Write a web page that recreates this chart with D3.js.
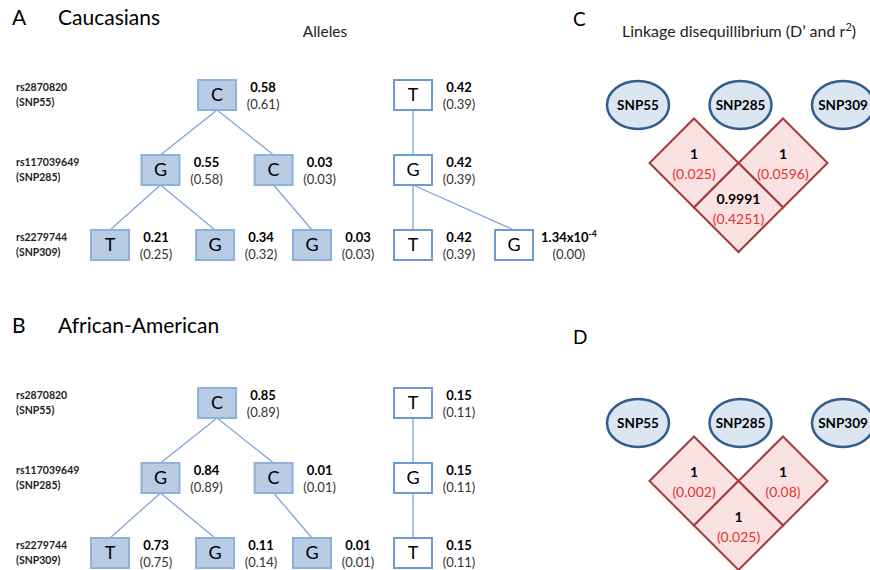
<!DOCTYPE html>
<html>
<head>
<meta charset="utf-8">
<script src="https://cdn.jsdelivr.net/npm/d3@7"></script>
<style>
  body { margin: 0; background: #fff; }
  text { font-family: Lato, "Open Sans", sans-serif; }
</style>
</head>
<body>
<div class="graph"></div>
<script>
// SNP labels
const snpRs = ["rs2870820", "rs117039649", "rs2279744"];
const snpNames = ["SNP55", "SNP285", "SNP309"];

// haplotype trees: allele, frequency, adjusted frequency, slot (column in leaf units)
const hapA = [
  { id: "a0", parent: null, snp: 0, allele: "C", freq: 0.58, adj: 0.61, common: true, slot: 1.06 },
  { id: "a1", parent: "a0", snp: 1, allele: "G", freq: 0.55, adj: 0.58, common: true, slot: 0.5 },
  { id: "a2", parent: "a0", snp: 1, allele: "C", freq: 0.03, adj: 0.03, common: true, slot: 1.62 },
  { id: "a3", parent: "a1", snp: 2, allele: "T", freq: 0.21, adj: 0.25, common: true, slot: 0 },
  { id: "a4", parent: "a1", snp: 2, allele: "G", freq: 0.34, adj: 0.32, common: true, slot: 1.04 },
  { id: "a5", parent: "a2", snp: 2, allele: "G", freq: 0.03, adj: 0.03, common: true, slot: 2 },
  { id: "a6", parent: null, snp: 0, allele: "T", freq: 0.42, adj: 0.39, common: false, slot: 3 },
  { id: "a7", parent: "a6", snp: 1, allele: "G", freq: 0.42, adj: 0.39, common: false, slot: 3 },
  { id: "a8", parent: "a7", snp: 2, allele: "T", freq: 0.42, adj: 0.39, common: false, slot: 3 },
  { id: "a9", parent: "a7", snp: 2, allele: "G", freq: 1.34e-4, adj: 0.00, common: false, slot: 4 }
];
const hapB = [
  { id: "b0", parent: null, snp: 0, allele: "C", freq: 0.85, adj: 0.89, common: true, slot: 1.06 },
  { id: "b1", parent: "b0", snp: 1, allele: "G", freq: 0.84, adj: 0.89, common: true, slot: 0.5 },
  { id: "b2", parent: "b0", snp: 1, allele: "C", freq: 0.01, adj: 0.01, common: true, slot: 1.62 },
  { id: "b3", parent: "b1", snp: 2, allele: "T", freq: 0.73, adj: 0.75, common: true, slot: 0 },
  { id: "b4", parent: "b1", snp: 2, allele: "G", freq: 0.11, adj: 0.14, common: true, slot: 1.04 },
  { id: "b5", parent: "b2", snp: 2, allele: "G", freq: 0.01, adj: 0.01, common: true, slot: 2 },
  { id: "b6", parent: null, snp: 0, allele: "T", freq: 0.15, adj: 0.11, common: false, slot: 3 },
  { id: "b7", parent: "b6", snp: 1, allele: "G", freq: 0.15, adj: 0.11, common: false, slot: 3 },
  { id: "b8", parent: "b7", snp: 2, allele: "T", freq: 0.15, adj: 0.11, common: false, slot: 3 }
];

// linkage disequilibrium: pairs of SNP indexes, D' and r2
const ldPairs = [[0, 1], [1, 2], [0, 2]];
const ldDprimeC = [1, 1, 0.9991];
const ldR2C = [0.025, 0.0596, 0.4251];
const ldDprimeD = [1, 1, 1];
const ldR2D = [0.002, 0.08, 0.025];

const W = 870, H = 570;
const svg = d3.select(".graph").append("svg")
  .attr("width", W).attr("height", H);

const boxW = 38, boxH = 30;
const lineColor = "#7ea6d8";
const x = d3.scaleLinear().domain([0, 4]).range([110, 514]);

function freqText(sel, v) {
  if (v > 0 && v < 0.001) {
    const e = Math.floor(Math.log10(v));
    const m = v / Math.pow(10, e);
    sel.text(m.toFixed(2) + "x10");
    sel.append("tspan").attr("dy", -5).style("font-size", "8.5px").text(e);
  } else {
    sel.text(v.toFixed(2));
  }
}

function drawTree(data, top, letter, title) {
  const y = d3.scaleLinear().domain([0, 2]).range([top, top + 150]);
  const g = svg.append("g");

  g.append("text").attr("x", 12).attr("y", top - 70)
    .style("font-size", "21px").text(letter);
  g.append("text").attr("x", 58).attr("y", top - 70)
    .style("font-size", "21px").text(title);

  // row labels
  const rows = g.selectAll(".rowlab").data(snpRs).enter().append("g")
    .attr("transform", (d, i) => "translate(16," + y(i) + ")");
  rows.append("text").attr("y", -4)
    .style("font-size", "10.5px").style("font-weight", "bold").style("fill", "#222").text(d => d);
  rows.append("text").attr("y", 11)
    .style("font-size", "10.5px").style("font-weight", "bold").style("fill", "#222").text((d, i) => "(" + snpNames[i] + ")");

  const byId = new Map(data.map(d => [d.id, d]));
  g.selectAll(".link").data(data.filter(d => d.parent)).enter().append("line")
    .attr("x1", d => x(byId.get(d.parent).slot))
    .attr("y1", d => y(byId.get(d.parent).snp) + boxH / 2)
    .attr("x2", d => x(d.slot))
    .attr("y2", d => y(d.snp) - boxH / 2)
    .style("stroke", lineColor).style("stroke-width", 1.3);

  const node = g.selectAll(".node").data(data).enter().append("g")
    .attr("transform", d => "translate(" + x(d.slot) + "," + y(d.snp) + ")");
  node.append("rect")
    .attr("x", -boxW / 2).attr("y", -boxH / 2)
    .attr("width", boxW).attr("height", boxH)
    .style("fill", d => d.common ? "#b8cce4" : "#fff")
    .style("stroke", d => d.common ? "#8eb1dc" : "#6f9bd5")
    .style("stroke-width", 2);
  node.append("text").attr("dy", "0.36em")
    .style("text-anchor", "middle").style("font-size", "18px")
    .text(d => d.allele);

  node.each(function (d) {
    const n = d3.select(this);
    const f = n.append("text").attr("x", 46).attr("y", -3)
      .style("text-anchor", "middle").style("font-size", "13px").style("font-weight", "bold");
    freqText(f, d.freq);
    // keep wide labels clear of the box
    const w = f.node().getComputedTextLength();
    const cx = Math.max(46, boxW / 2 + 8 + w / 2);
    f.attr("x", cx);
    n.append("text").attr("x", cx).attr("y", 14)
      .style("text-anchor", "middle").style("font-size", "13px").style("fill", "#333")
      .text("(" + d.adj.toFixed(2) + ")");
  });
}

function drawLD(top, letter, dprime, r2, withTitle) {
  const g = svg.append("g");
  g.append("text").attr("x", 573).attr("y", top - 79)
    .style("font-size", "19px").text(letter);
  if (withTitle) {
    const t = g.append("text").attr("x", 739).attr("y", top - 68)
      .style("text-anchor", "middle").style("font-size", "16px").style("fill", "#222")
      .text("Linkage disequillibrium (D\u2019 and r");
    t.append("tspan").attr("dy", -6).style("font-size", "11px").text("2");
    t.append("tspan").attr("dy", 6).text(")");
  }

  const ex = d3.scalePoint().domain(snpNames).range([638, 843]);
  const el = g.selectAll(".snp").data(snpNames).enter().append("g")
    .attr("transform", d => "translate(" + ex(d) + "," + top + ")");
  el.append("ellipse").attr("rx", 31).attr("ry", 24)
    .style("fill", "#dce6f2").style("stroke", "#2f5e8f").style("stroke-width", 2.5);
  el.append("text").attr("dy", "0.36em")
    .style("text-anchor", "middle").style("font-size", "13.5px").style("font-weight", "bold")
    .text(d => d);

  // diamond grid
  const half = 44.5;
  const dx = d3.scaleLinear().domain([0, 2]).range([649.5, 827.5]);
  const dy = d3.scaleLinear().domain([0, 1]).range([top + 13.5, top + 13.5 + half]);
  const cells = g.selectAll(".cell").data(ldPairs).enter().append("g")
    .attr("transform", p => "translate(" + (dx(p[0]) + dx(p[1])) / 2 + "," + dy(p[1] - p[0]) + ")");
  cells.append("path")
    .attr("d", "M0," + (-half) + "L" + half + ",0L0," + half + "L" + (-half) + ",0Z")
    .style("fill", "#fbe2e2").style("stroke", "#a23a3b").style("stroke-width", 2);
  cells.append("text").attr("y", -4)
    .style("text-anchor", "middle").style("font-size", "14px").style("font-weight", "bold")
    .text((p, i) => dprime[i]);
  cells.append("text").attr("y", 16)
    .style("text-anchor", "middle").style("font-size", "14px").style("fill", "#e8302f")
    .text((p, i) => "(" + r2[i] + ")");
}

svg.append("text").attr("x", 325).attr("y", 37)
  .style("text-anchor", "middle").style("font-size", "15.5px").style("fill", "#222")
  .text("Alleles");

drawTree(hapA, 95, "A", "Caucasians");
drawTree(hapB, 403, "B", "African-American");
drawLD(105, "C", ldDprimeC, ldR2C, true);
drawLD(423, "D", ldDprimeD, ldR2D, false);
</script>
</body>
</html>
